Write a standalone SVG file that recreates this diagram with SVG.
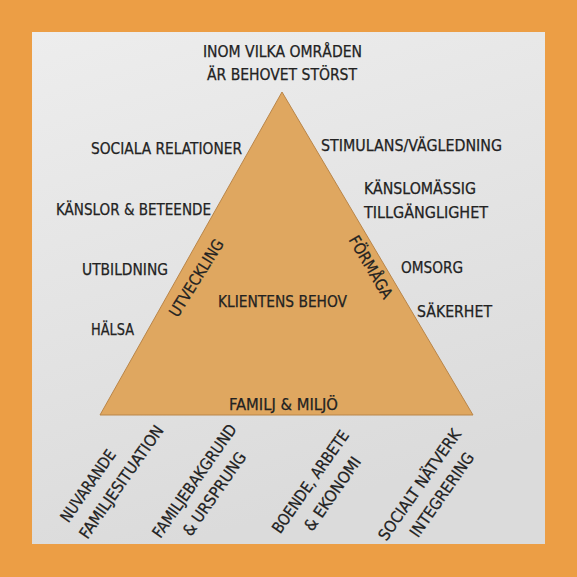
<svg xmlns="http://www.w3.org/2000/svg" width="577" height="577" viewBox="0 0 577 577">
<defs>
<linearGradient id="paper" x1="0" y1="0" x2="0.3" y2="1">
<stop offset="0" stop-color="#EDEDED"/>
<stop offset="1" stop-color="#DBDBDB"/>
</linearGradient>
<style>
text{font-family:"DejaVu Sans Condensed","DejaVu Sans",sans-serif;font-stretch:condensed;font-size:16px;fill:#222222;stroke:#222222;stroke-width:0.25}
.m{text-anchor:middle}
</style>
</defs>
<rect x="0" y="0" width="577" height="577" fill="#EC9E45"/>
<rect x="32" y="32" width="513" height="512" fill="url(#paper)"/>
<g id="triangle">
<polygon points="282,92 100,415 473,415" fill="#DFA760" stroke="#B98548" stroke-width="1"/>
</g>
<g id="title">
<text class="m" x="282.5" y="57" textLength="159" lengthAdjust="spacingAndGlyphs">INOM VILKA OMRÅDEN</text>
<text class="m" x="282" y="80" textLength="150" lengthAdjust="spacingAndGlyphs">ÄR BEHOVET STÖRST</text>
</g>
<g id="left-labels">
<text x="91" y="154" textLength="151" lengthAdjust="spacingAndGlyphs">SOCIALA RELATIONER</text>
<text x="56" y="215" textLength="155" lengthAdjust="spacingAndGlyphs">KÄNSLOR &amp; BETEENDE</text>
<text x="82" y="275" textLength="86" lengthAdjust="spacingAndGlyphs">UTBILDNING</text>
<text x="91" y="335" textLength="43" lengthAdjust="spacingAndGlyphs">HÄLSA</text>
</g>
<g id="right-labels">
<text x="321" y="151" textLength="181" lengthAdjust="spacingAndGlyphs">STIMULANS/VÄGLEDNING</text>
<text x="364" y="194" textLength="112" lengthAdjust="spacingAndGlyphs">KÄNSLOMÄSSIG</text>
<text x="364" y="218" textLength="124" lengthAdjust="spacingAndGlyphs">TILLGÄNGLIGHET</text>
<text x="401" y="273" textLength="62" lengthAdjust="spacingAndGlyphs">OMSORG</text>
<text x="417" y="317" textLength="75" lengthAdjust="spacingAndGlyphs">SÄKERHET</text>
</g>
<g id="triangle-labels">
<text class="m" transform="translate(201,281) rotate(-58)" textLength="88" lengthAdjust="spacingAndGlyphs">UTVECKLING</text>
<text class="m" transform="translate(366,270) rotate(59.5)" textLength="70" lengthAdjust="spacingAndGlyphs">FÖRMÅGA</text>
<text x="218" y="307" textLength="129" lengthAdjust="spacingAndGlyphs">KLIENTENS BEHOV</text>
<text x="229" y="410" textLength="109" lengthAdjust="spacingAndGlyphs">FAMILJ &amp; MILJÖ</text>
</g>
<g id="bottom-labels">
<text class="m" transform="translate(92.5,489) rotate(-55)" textLength="84" lengthAdjust="spacingAndGlyphs">NUVARANDE</text>
<text class="m" transform="translate(126,485) rotate(-55)" textLength="134" lengthAdjust="spacingAndGlyphs">FAMILJESITUATION</text>
<text class="m" transform="translate(199,484) rotate(-55)" textLength="134" lengthAdjust="spacingAndGlyphs">FAMILJEBAKGRUND</text>
<text class="m" transform="translate(219,497) rotate(-55)" textLength="98" lengthAdjust="spacingAndGlyphs">&amp; URSPRUNG</text>
<text class="m" transform="translate(315,485) rotate(-55)" textLength="121" lengthAdjust="spacingAndGlyphs">BOENDE, ARBETE</text>
<text class="m" transform="translate(337,497) rotate(-55)" textLength="86" lengthAdjust="spacingAndGlyphs">&amp; EKONOMI</text>
<text class="m" transform="translate(424,488) rotate(-55)" textLength="131" lengthAdjust="spacingAndGlyphs">SOCIALT NÄTVERK</text>
<text class="m" transform="translate(446.5,498) rotate(-55)" textLength="99" lengthAdjust="spacingAndGlyphs">INTEGRERING</text>
</g>
</svg>
